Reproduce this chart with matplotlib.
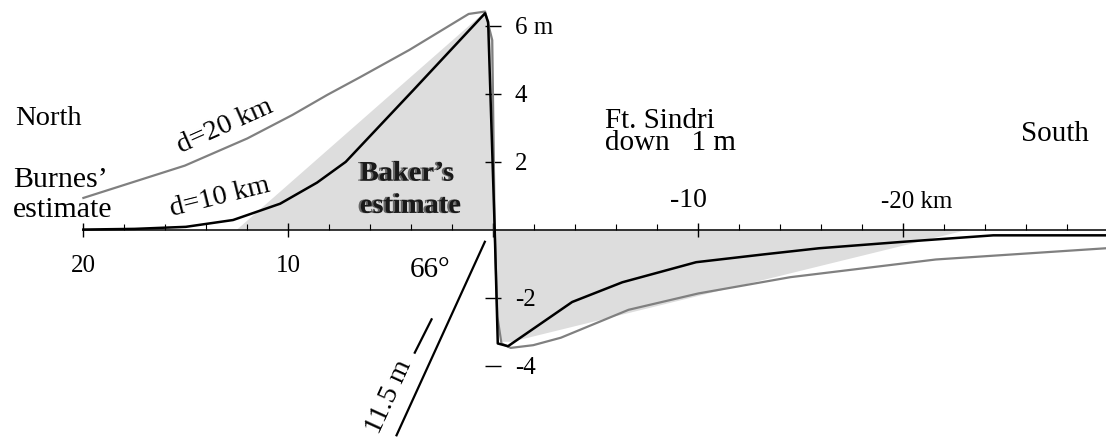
import numpy as np
import matplotlib
matplotlib.use('Agg')
from matplotlib import pyplot as plt
import matplotlib.transforms as mtransforms
import matplotlib.patheffects as pe

plt.rcParams['font.family'] = ['Liberation Serif', 'DejaVu Serif']
plt.rcParams['font.size'] = 18

# distance along profile (km, north positive) and vertical movement (m)
x_d10 = [20.0, 17.5, 15.0, 12.7, 10.4, 8.6, 7.2, 3.9, 0.4, 0.25, -0.07, -0.22,
         -0.72, -3.85, -6.3, -9.9, -13.2, -15.9, -20.0, -24.4, -29.9]
y_d10 = [0.0, 0.02, 0.08, 0.28, 0.76, 1.38, 1.99, 4.10, 6.36, 6.10, 0.0, -3.35,
         -3.43, -2.13, -1.55, -0.96, -0.73, -0.55, -0.36, -0.17, -0.17]

x_d20 = [20.0, 15.05, 12.0, 9.8, 8.1, 6.5, 4.1, 1.2, 0.4, 0.05, -0.07, -0.2,
         -0.4, -0.85, -1.95, -3.3, -6.6, -10.0, -14.5, -21.6, -29.9]
y_d20 = [0.93, 1.88, 2.68, 3.37, 3.96, 4.48, 5.28, 6.34, 6.41, 5.57, 0.0, -2.56,
         -3.35, -3.48, -3.40, -3.18, -2.36, -1.88, -1.40, -0.88, -0.55]

# Baker's estimate (shaded)
baker_x = [12.5, 0.45, 0.05, -0.07, -0.2, -0.35, -0.9, -23.2]
baker_y = [0.0, 6.38, 5.57, 0.0, -2.56, -3.3, -3.3, 0.0]

# fault trace and slip marker
fault_x = [0.41, 4.72]
fault_y = [-0.36, -6.05]
slip_x = [3.01, 3.83]
slip_y = [-2.64, -3.62]

xticks = [20, 10, 0, -10, -20]
xticklabels = ['20', '10', '', '-10', '-20 km']
yticks = [-4, -2, 2, 4, 6]
yticklabels = ['-4', '-2', '2', '4', '6 m']

fig = plt.figure(figsize=(11.06, 4.37), dpi=100)
ax = fig.add_axes([0, 0, 1, 1])
ax.set_xlim(24.07, -29.9)
ax.set_ylim(-6.10, 6.75)

ax.fill(baker_x, baker_y, color='#dddddd', lw=0, zorder=1)
ax.plot(x_d20, y_d20, color='#808080', lw=1.6, zorder=3)
ax.plot(x_d10, y_d10, color='black', lw=1.8, zorder=4)
ax.plot(fault_x, fault_y, color='black', lw=1.6)
ax.plot(slip_x, slip_y, color='black', lw=1.6)

# axes through the origin
ax.spines['left'].set_visible(False)
ax.spines['right'].set_position(('data', 0))
ax.spines['right'].set_color('none')
ax.spines['bottom'].set_position(('data', 0))
ax.spines['bottom'].set_bounds(-29.9, 20)
ax.spines['bottom'].set_linewidth(1.1)
ax.spines['bottom'].set_zorder(2)
ax.spines['top'].set_position(('data', 0))
ax.spines['top'].set_color('none')

ax.yaxis.tick_right()
ax.set_yticks(yticks)
ax.set_yticklabels(yticklabels)
ax.tick_params(axis='y', direction='inout', length=11, width=1, pad=10)

ax.set_xticks(xticks)
ax.set_xticklabels(xticklabels)
ax.set_xticks(np.arange(-28, 20, 2), minor=True)
ax.tick_params(axis='x', which='major', direction='inout', length=9.4, width=1,
               pad=13.7, top=False, labeltop=True, bottom=True)
ax.tick_params(axis='x', which='minor', direction='in', length=4.3, width=0.8,
               top=False)

top_shift = {-10: (-7.0, -6.5), -20: (9.5, -6.5)}
for t, v in zip(ax.xaxis.get_major_ticks(), xticks):
    t.label1.set_visible(v > 0)
    t.label2.set_visible(v < 0)
    if v == -10:
        t.label2.set_fontsize(20)
    if v in top_shift:
        dx, dy = top_shift[v]
        t.label2.set_transform(t.label2.get_transform() +
                               mtransforms.ScaledTranslation(dx / 72, dy / 72, fig.dpi_scale_trans))

# annotations (multi-line blocks are anchored on the last baseline)
ax.text(23.34, 3.07, 'North', ha='left', va='baseline', fontsize=20.5)
ax.text(23.44, 0.37, 'Burnes\u2019\nestimate', ha='left', va='baseline',
        fontsize=21.5, linespacing=1.2)
ax.text(13.1, 3.04, 'd=20 km', ha='center', va='center', rotation=24, fontsize=20.5)
ax.text(13.34, 0.96, 'd=10 km', ha='center', va='center', rotation=14, fontsize=20.5)
ax.text(-5.44, 2.34, 'Ft. Sindri\ndown   1 m', ha='left', va='baseline',
        fontsize=21, linespacing=0.82)
ax.text(-29.08, 2.60, 'South', ha='right', va='baseline', fontsize=21)
ax.text(4.07, -1.39, '66\u00b0', ha='left', va='baseline', fontsize=21)
ax.text(5.08, -4.92, '11.5 m', ha='center', va='center', rotation=65.5, fontsize=20.5)

ax.text(6.51, 0.49, 'Baker\u2019s\nestimate', ha='left', va='baseline', fontsize=20.5,
        fontweight='bold', color='#1a1a1a', linespacing=1.38, zorder=5,
        path_effects=[pe.withSimplePatchShadow(offset=(-1.6, 0), shadow_rgbFace='#666666',
                                               alpha=1.0)])

fig.savefig('out.png', dpi=100)
